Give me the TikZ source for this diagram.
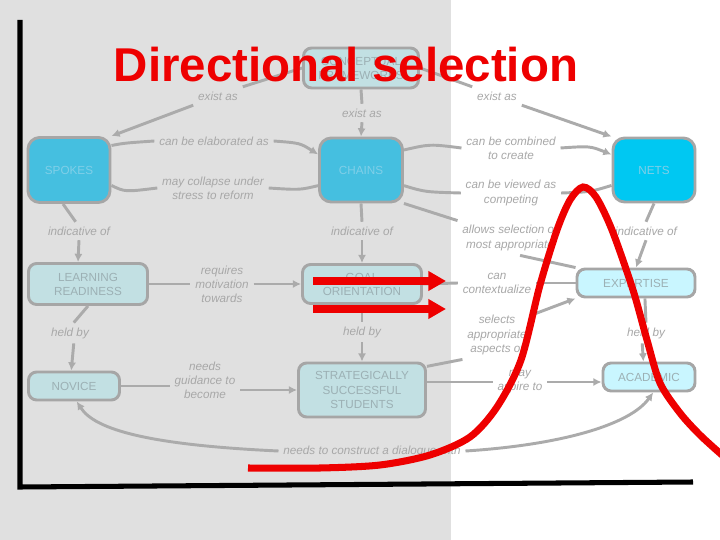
\documentclass[tikz,border=0pt]{standalone}
\usepackage{fontspec}
\setmainfont{Liberation Sans}
\usetikzlibrary{arrows.meta}
\usepackage{xcolor}
\definecolor{bggray}{HTML}{E0E0E0}
\definecolor{linegray}{HTML}{ABABAB}
\definecolor{labgray}{HTML}{A8A8A8}
\definecolor{boxline}{HTML}{A6A6A6}
\definecolor{boxtext}{HTML}{9CB0B4}
\definecolor{paleblue}{HTML}{C2E0E3}
\definecolor{palecyan}{HTML}{C9F6FF}
\definecolor{midblue}{HTML}{45BFE0}
\definecolor{netblue}{HTML}{00C8F2}
\definecolor{spoketext}{HTML}{80CFE8}
\definecolor{redline}{HTML}{EE0000}
\tikzset{
  >=Latex,
  lbox/.style={draw=boxline,line width=2.5pt,rounded corners=7pt,fill=paleblue,text=boxtext,align=center,font=\fontsize{10}{12}\selectfont,inner sep=2pt},
  cbox/.style={lbox,fill=palecyan},
  bbox/.style={lbox,fill=midblue,text=spoketext,rounded corners=10pt},
  lab/.style={text=labgray,align=center,font=\fontsize{10}{12}\selectfont\itshape,inner sep=4pt},
  link/.style={draw=linegray,line width=2.5pt},
  arr/.style={link,-{Latex[length=7pt,width=7pt]}},
  axis/.style={draw=black,line width=4.3pt},
  bell/.style={draw=redline,line width=6pt},
  redarr/.style={draw=redline,line width=6pt,-{Triangle[length=15pt,width=16pt]}},
  title/.style={text=redline,font=\fontsize{40.5}{44}\selectfont\bfseries,inner sep=0pt}
}
\begin{document}
\begin{tikzpicture}[x=0.03cm,y=-0.03cm]
\useasboundingbox (0,0) rectangle (720,540);
\fill[white] (0,0) rectangle (720,540);
\fill[bggray] (0,0) rectangle (451,540);
% axes
\draw[axis] (20,20) -- (20,487) -- (693,482);
% concepts
\node[lbox,minimum width=3.45cm,minimum height=1.2cm] (frame) at (361,68) {CONCEPTUAL\\FRAMEWORKS};
\node[bbox,minimum width=2.46cm,minimum height=1.95cm] (spokes) at (69,170) {SPOKES};
\node[bbox,minimum width=2.49cm,minimum height=1.92cm] (chains) at (361,170) {CHAINS};
\node[bbox,fill=netblue,minimum width=2.46cm,minimum height=1.92cm] (nets) at (654,170) {NETS};
\node[lbox,minimum width=3.57cm,minimum height=1.23cm] (ready) at (88,284) {LEARNING\\READINESS};
\node[lbox,minimum width=3.57cm,minimum height=1.17cm] (goal) at (362,284) {GOAL\\ORIENTATION};
\node[cbox,minimum width=3.54cm,minimum height=0.84cm] (expert) at (636,283) {EXPERTISE};
\node[lbox,minimum width=2.73cm,minimum height=0.84cm] (novice) at (74,386) {NOVICE};
\node[lbox,minimum width=3.81cm,minimum height=1.62cm] (strat) at (362,390) {STRATEGICALLY\\SUCCESSFUL\\STUDENTS};
\node[cbox,minimum width=2.76cm,minimum height=0.84cm] (academic) at (649,377) {ACADEMIC};
% link labels
\node[lab] (exA) at (218,96) {exist as};
\node[lab] (exB) at (497,96) {exist as};
\node[lab] (exC) at (362,113) {exist as};
\node[lab] (elab) at (214,141) {can be elaborated as};
\node[lab] (coll) at (213,188) {may collapse under\\stress to reform};
\node[lab] (comb) at (511,148) {can be combined\\to create};
\node[lab] (view) at (511,193) {can be viewed as\\competing};
\node[lab] (indA) at (79,231) {indicative of};
\node[lab] (indB) at (362,231) {indicative of};
\node[lab] (allow) at (510,238) {allows selection of\\most appropriate};
\node[lab] (indC) at (646,231) {indicative of};
\node[lab] (req) at (222,284) {requires\\motivation\\towards};
\node[lab] (cont) at (497,283) {can\\contextualize};
\node[lab] (heldA) at (70,333) {held by};
\node[lab] (heldB) at (362,332) {held by};
\node[lab] (sel) at (497,335) {selects\\appropriate\\aspects of};
\node[lab] (heldC) at (646,333) {held by};
\node[lab] (guide) at (205,380) {needs\\guidance to\\become};
\node[lab] (aspire) at (520,382) {may\\aspire to};
\node[lab] (dial) at (372,451) {needs to construct a dialogue with};
% connectors
\draw[link] (frame.west) -- (exA.north east);
\draw[arr] (exA.south west) -- (spokes.north east);
\draw[link] (frame.east) -- (exB.north west);
\draw[arr] (exB.south east) -- (nets.north west);
\draw[link] (frame.south) -- (exC.north);
\draw[arr] (exC.south) -- (chains.north);
\draw[link] (spokes.30) .. controls (125,143) .. (elab.west);
\draw[arr] (elab.east) .. controls (300,143) .. (chains.160);
\draw[link] (chains.200) .. controls (300,190) .. (coll.east);
\draw[link] (coll.west) .. controls (125,192) .. (spokes.-20);
\draw[link] (chains.25) .. controls (430,144) .. (comb.west);
\draw[arr] (comb.east) .. controls (590,146) .. (nets.160);
\draw[link] (chains.-20) .. controls (425,192) .. (view.west);
\draw[link] (nets.200) .. controls (590,192) .. (view.east);
\draw[link] (chains.south east) -- (allow.north west);
\draw[link] (allow.-60) -- (expert.north west);
\draw[link] (spokes.-100) -- (indA.110);
\draw[arr] (indA.south) -- ([xshift=-0.3cm]ready.north);
\draw[link] (chains.south) -- (indB.north);
\draw[arr] (indB.south) -- (goal.north);
\draw[link] (nets.south) -- (indC.north);
\draw[arr] (indC.south) -- (expert.north);
\draw[link] (ready.east) -- (req.west);
\draw[arr] (req.east) -- (goal.west);
\draw[link] (goal.east) -- (cont.west);
\draw[link] (expert.west) -- (cont.east);
\draw[link] (ready.south) -- (heldA.70);
\draw[arr] (heldA.-70) -- (novice.100);
\draw[link] (goal.south) -- (heldB.north);
\draw[arr] (heldB.south) -- (strat.north);
\draw[link] (expert.-60) -- (heldC.north);
\draw[arr] (heldC.-110) -- (academic.110);
\draw[link] (strat.20) -- (sel.south west);
\draw[arr] (sel.30) -- (expert.south west);
\draw[link] (novice.east) -- (novice.east -| guide.west);
\draw[arr] (guide.east |- strat.west) -- (strat.west);
\draw[link] (strat.east |- aspire.west) -- (aspire.west);
\draw[arr] (aspire.east) -- (academic.west |- aspire.east);
\draw[arr] (dial.west) .. controls (150,445) and (95,430) .. (novice.-80);
\draw[arr] (dial.east) .. controls (560,445) and (630,425) .. (academic.-75);
% red overlay
\draw[bell] plot[smooth] coordinates {(248,468) (320,468) (380,465) (430,455) (470,437) (497,407) (521,360) (540,285) (557,230) (570,200) (583,187) (596,197) (612,230) (633,290) (647,340) (660,383) (680,413) (700,435) (722,455)};
\coordinate (topA) at (313,281);
\coordinate (topB) at (446,281);
\coordinate (lowA) at (313,309);
\coordinate (lowB) at (446,309);
\draw[redarr] (topA) -- (topB);
\draw[redarr] (lowA) -- (lowB);
\node[title,anchor=base] (head) at (346,82) {Directional selection};
\end{tikzpicture}
\end{document}
